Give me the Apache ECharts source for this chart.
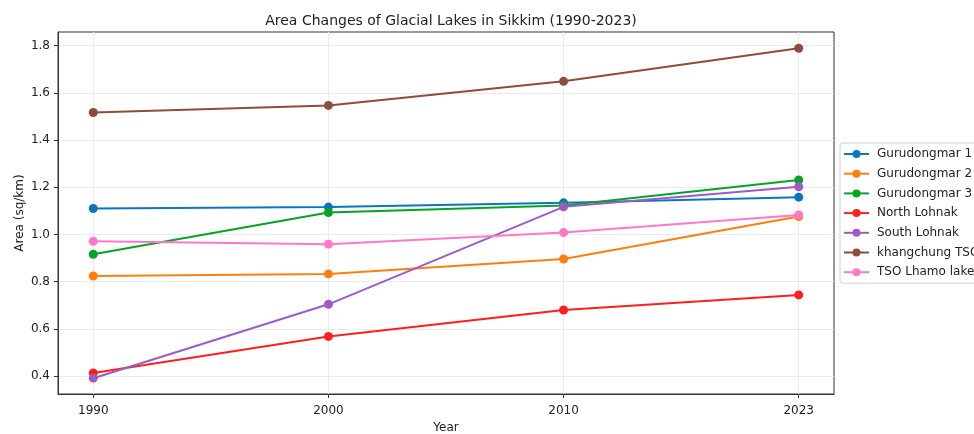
<!DOCTYPE html>
<html>
<head>
<meta charset="utf-8">
<script src="https://cdn.jsdelivr.net/npm/echarts@6/dist/echarts.min.js"></script>
<style>
  html, body { margin: 0; padding: 0; background: #fff; }
  #chart { width: 974px; height: 434px; }
</style>
</head>
<body>
<div id="chart"></div>
<script>
// Survey years, placed at evenly spaced positions 0..3
const years = ['1990', '2000', '2010', '2023'];
const yTicks = [0.4, 0.6, 0.8, 1.0, 1.2, 1.4, 1.6, 1.8];

// Lake areas in sq/km for each survey year
const gurudongmar1 = [1.110, 1.116, 1.134, 1.158];
const gurudongmar2 = [0.824, 0.833, 0.896, 1.076];
const gurudongmar3 = [0.916, 1.093, 1.123, 1.231];
const northLohnak = [0.413, 0.568, 0.680, 0.744];
const southLohnak = [0.391, 0.704, 1.117, 1.202];
const khangchungTSO = [1.517, 1.547, 1.649, 1.789];
const tsoLhamo = [0.971, 0.959, 1.008, 1.083];

const seriesDefs = [
  { name: 'Gurudongmar 1', values: gurudongmar1, color: '#0a77bd' },
  { name: 'Gurudongmar 2', values: gurudongmar2, color: '#ff7f0e' },
  { name: 'Gurudongmar 3', values: gurudongmar3, color: '#05a426' },
  { name: 'North Lohnak', values: northLohnak, color: '#ff1f1f' },
  { name: 'South Lohnak', values: southLohnak, color: '#9c5cc6' },
  { name: 'khangchung TSO', values: khangchungTSO, color: '#8e4b3e' },
  { name: 'TSO Lhamo lake', values: tsoLhamo, color: '#ff78cc' }
];

const font = 'DejaVu Sans';

const chart = echarts.init(document.getElementById('chart'), null, { renderer: 'canvas' });

chart.setOption({
  animation: false,
  backgroundColor: '#ffffff',
  textStyle: { fontFamily: font },
  title: {
    text: 'Area Changes of Glacial Lakes in Sikkim (1990-2023)',
    left: 446,
    top: 9,
    textAlign: 'center',
    textStyle: { fontFamily: font, fontSize: 14, fontWeight: 'normal', color: '#222' }
  },
  grid: {
    left: 58, right: 140, top: 32, bottom: 40,
    containLabel: false,
    outerBoundsMode: 'none',
    show: true, borderColor: '#333', borderWidth: 1, backgroundColor: 'transparent'
  },
  legend: {
    orient: 'vertical',
    left: 840,
    top: 143,
    padding: [5, 30, 5, 3],
    itemWidth: 25,
    itemHeight: 10,
    itemGap: 7.7,
    borderColor: '#d0d0d0',
    borderWidth: 1,
    borderRadius: 3,
    backgroundColor: '#fff',
    textStyle: { fontFamily: font, fontSize: 12, color: '#222', lineHeight: 12, padding: [0, 0, 0, 3] },
    data: seriesDefs.map(s => s.name)
  },
  xAxis: {
    type: 'value',
    min: -0.15,
    max: 3.15,
    name: 'Year',
    nameLocation: 'middle',
    nameGap: 28,
    nameTextStyle: { fontFamily: font, fontSize: 12, color: '#222' },
    axisLine: { show: true, onZero: false, lineStyle: { color: '#333', width: 1 } },
    axisTick: { show: true, length: 4, lineStyle: { color: '#333' }, customValues: [0, 1, 2, 3] },
    axisLabel: {
      customValues: [0, 1, 2, 3],
      margin: 11,
      fontFamily: font, fontSize: 12, color: '#222',
      formatter: v => years[Math.round(v)]
    },
    splitLine: { show: true, lineStyle: { color: '#ebebeb', width: 1 } }
  },
  yAxis: {
    type: 'value',
    min: 0.324,
    max: 1.858,
    name: 'Area (sq/km)',
    nameLocation: 'middle',
    nameGap: 32,
    nameMoveOverlap: false,
    nameRotate: 90,
    nameTextStyle: { fontFamily: font, fontSize: 12, color: '#222' },
    axisLine: { show: true, onZero: false, lineStyle: { color: '#333', width: 1 } },
    axisTick: { show: true, length: 4, lineStyle: { color: '#333' }, customValues: yTicks },
    axisLabel: {
      customValues: yTicks,
      margin: 8,
      fontFamily: font, fontSize: 12, color: '#222',
      formatter: v => v.toFixed(1)
    },
    splitLine: { show: true, lineStyle: { color: '#ebebeb', width: 1 } }
  },
  series: seriesDefs.map(s => ({
    name: s.name,
    type: 'line',
    data: s.values.map((v, i) => [i, v]),
    symbol: 'circle',
    symbolSize: 9,
    color: s.color,
    lineStyle: { width: 2, color: s.color },
    itemStyle: { color: s.color },
    emphasis: { disabled: true }
  }))
});
</script>
</body>
</html>
